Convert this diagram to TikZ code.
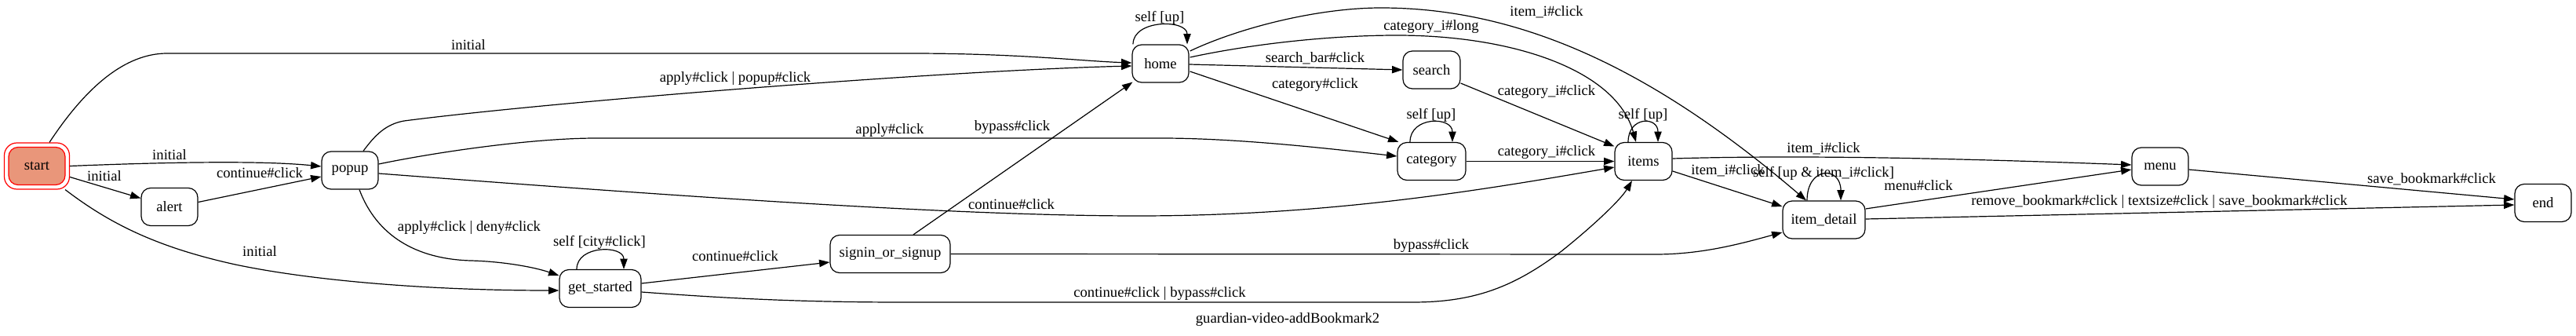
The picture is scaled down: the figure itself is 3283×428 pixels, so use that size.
\documentclass[tikz,border=0pt]{standalone}
\usepackage{fontspec}
\setmainfont{Liberation Serif}
\usetikzlibrary{arrows.meta,calc}
\definecolor{startfill}{RGB}{233,150,122}
\begin{document}
\begin{tikzpicture}[x=0.75pt,y=-0.75pt,
  st/.style={draw, rounded corners=9pt, line width=0.9pt, minimum height=36pt, inner sep=0pt, font=\fontsize{14}{16}\selectfont},
  lbl/.style={inner sep=0pt, font=\fontsize{14}{16}\selectfont},
  ed/.style={draw, line width=0.9pt, -{Triangle[length=10pt,width=7pt]}},
]
\useasboundingbox (0,0) rectangle (3283,428);
% nodes
\node[draw=red, rounded corners=12pt, line width=0.9pt, minimum width=62.25pt, minimum height=44.25pt, inner sep=0pt] (startout) at (47,211.5) {};
\node[st, draw=red, fill=startfill, minimum width=54pt] (start) at (47,211.5) {start};
\node[st, minimum width=54pt] (alert) at (216,263.5) {alert};
\node[st, minimum width=54pt] (popup) at (446,217) {popup};
\node[st, minimum width=78pt] (gs) at (765,367.5) {get\_started};
\node[st, minimum width=114.75pt] (sis) at (1134.5,323.5) {signin\_or\_signup};
\node[st, minimum width=54pt] (home) at (1479,81) {home};
\node[st, minimum width=54.75pt] (search) at (1824.5,89) {search};
\node[st, minimum width=65.25pt] (category) at (1824.5,205.5) {category};
\node[st, minimum width=54.75pt] (items) at (2094.5,205.5) {items};
\node[st, minimum width=78.75pt] (itemd) at (2324.5,280) {item\_detail};
\node[st, minimum width=54pt] (menu) at (2753,212) {menu};
\node[st, minimum width=54pt] (endn) at (3241,258.5) {end};
% edges
\draw[ed] ($(startout.north)+(16,0)$) .. controls (110,110) and (160,68) .. (213,68) -- (1160,68) .. controls (1300,68) and (1380,78) .. ($(home.west)+(0,-1)$);
\draw[ed] (startout.east) .. controls (200,207) and (330,204) .. ($(popup.west)+(0,-5)$);
\draw[ed] ($(startout.east)+(0,14)$) -- ($(alert.west)+(0,-11)$);
\draw[ed] ($(alert.east)+(0,-6)$) -- ($(popup.west)+(0,8)$);
\draw[ed] ($(startout.south east)+(-6,0)$) .. controls (140,285) and (200,315) .. (300,337) .. controls (400,358) and (550,370) .. ($(gs.west)+(0,2.5)$);
\draw[ed] ($(popup.north)+(17,0)$) .. controls (478,172) and (492,158) .. (515,154) .. controls (700,130) and (1200,90) .. ($(home.west)+(0,3)$);
\draw[ed] ($(popup.east)+(0,-8)$) .. controls (560,193) and (680,176) .. (760,176) -- (1480,176) .. controls (1580,176) and (1700,190) .. ($(category.west)+(0,-6.5)$);
\draw[ed] ($(popup.east)+(0,4)$) .. controls (800,245) and (1200,275) .. (1450,275) .. controls (1700,275) and (1900,240) .. ($(items.west)+(0,7.5)$);
\draw[ed] ($(popup.south)+(12,0)$) .. controls (480,300) and (530,330) .. (600,332) .. controls (640,333) and (680,340) .. ($(gs.west)+(0,-16.5)$);
\draw[ed] ($(gs.north)+(-30,0)$) .. controls +(0,-31) and +(0,-31) .. ($(gs.north)+(30,0)$);
\draw[ed] ($(gs.east)+(0,-6.5)$) -- ($(sis.west)+(0,10.5)$);
\draw[ed] ($(gs.east)+(0,4.5)$) .. controls (900,378) and (1000,385) .. (1150,385) -- (1800,385) .. controls (1880,385) and (1930,365) .. (1990,320) .. controls (2030,288) and (2065,255) .. ($(items.south)+(-14.5,0)$);
\draw[ed] ($(sis.north)+(29.5,0)$) -- ($(home.south west)+(1,-1)$);
\draw[ed] (sis.east) -- (2110,324) .. controls (2170,324) and (2220,310) .. ($(itemd.west)+(0,16)$);
\draw[ed] ($(home.north)+(-35,0)$) .. controls +(0,-32) and +(0,-32) .. ($(home.north)+(34,0)$);
\draw[ed] ($(home.east)+(1,-16)$) .. controls (1580,35) and (1680,10) .. (1760,10) .. controls (1950,10) and (2120,100) .. ($(itemd.north)+(-22.5,0)$);
\draw[ed] ($(home.east)+(1,-8)$) .. controls (1600,55) and (1700,45) .. (1780,45) .. controls (1930,45) and (2060,90) .. ($(items.north)+(-9.5,0)$);
\draw[ed] ($(home.east)+(0,1)$) -- (search.west);
\draw[ed] ($(home.east)+(1,10)$) -- ($(category.north west)+(2,0)$);
\draw[ed] ($(search.east)+(0,17)$) -- ($(items.west)+(0,-19)$);
\draw[ed] ($(category.north)+(-27.5,0)$) .. controls +(0,-33) and +(0,-33) .. ($(category.north)+(26.5,0)$);
\draw[ed] (category.east) -- (items.west);
\draw[ed] ($(items.north)+(-19.5,0)$) .. controls +(0,-33) and +(0,-33) .. ($(items.north)+(18.5,0)$);
\draw[ed] ($(items.east)+(0,-3.5)$) .. controls (2300,197) and (2500,202) .. ($(menu.west)+(0,-2)$);
\draw[ed] ($(items.east)+(0,12.5)$) -- ($(itemd.west)+(0,-17)$);
\draw[ed] ($(itemd.north)+(-21.5,0)$) .. controls +(0,-44) and +(0,-44) .. ($(itemd.north)+(21.5,0)$);
\draw[ed] ($(itemd.east)+(0,-14)$) -- ($(menu.west)+(0,4)$);
\draw[ed] ($(itemd.east)+(0,-1)$) -- ($(endn.west)+(0,2.5)$);
\draw[ed] ($(menu.east)+(0,4)$) -- ($(endn.west)+(0,-4.5)$);
% labels
\node[lbl] (l1) at (597,57) {initial};
\node[lbl] (l2) at (216,197) {initial};
\node[lbl] (l3) at (133,224) {initial};
\node[lbl] (l4) at (331,220) {continue\#click};
\node[lbl] (l5) at (331,320) {initial};
\node[lbl] (l6) at (937,100) {apply\#click | popup\#click};
\node[lbl] (l7) at (1134,166) {apply\#click};
\node[lbl] (l8) at (1289,260) {continue\#click};
\node[lbl] (l9) at (598,290) {apply\#click | deny\#click};
\node[lbl] (l10) at (764,309) {self [city\#click]};
\node[lbl] (l11) at (937,326) {continue\#click};
\node[lbl] (l12) at (1478,374) {continue\#click | bypass\#click};
\node[lbl] (l13) at (1290,162) {bypass\#click};
\node[lbl] (l14) at (1824,313) {bypass\#click};
\node[lbl] (l15) at (1478,23) {self [up]};
\node[lbl] (l16) at (1971,15) {item\_i\#click};
\node[lbl] (l17) at (1824,34) {category\_i\#long};
\node[lbl] (l18) at (1676,74) {search\_bar\#click};
\node[lbl] (l19) at (1676,108) {category\#click};
\node[lbl] (l20) at (1971,117) {category\_i\#click};
\node[lbl] (l21) at (1824,147) {self [up]};
\node[lbl] (l22) at (1971,194) {category\_i\#click};
\node[lbl] (l23) at (2094,147) {self [up]};
\node[lbl] (l24) at (2324,189) {item\_i\#click};
\node[lbl] (l25) at (2202,217) {item\_i\#click};
\node[lbl] (l26) at (2324,221) {self [up \& item\_i\#click]};
\node[lbl] (l27) at (2445,236) {menu\#click};
\node[lbl] (l28) at (2752,257) {remove\_bookmark\#click | textsize\#click | save\_bookmark\#click};
\node[lbl] (l29) at (3099,228) {save\_bookmark\#click};
\node[lbl] (title) at (1641,407) {guardian-video-addBookmark2};
\end{tikzpicture}
\end{document}
